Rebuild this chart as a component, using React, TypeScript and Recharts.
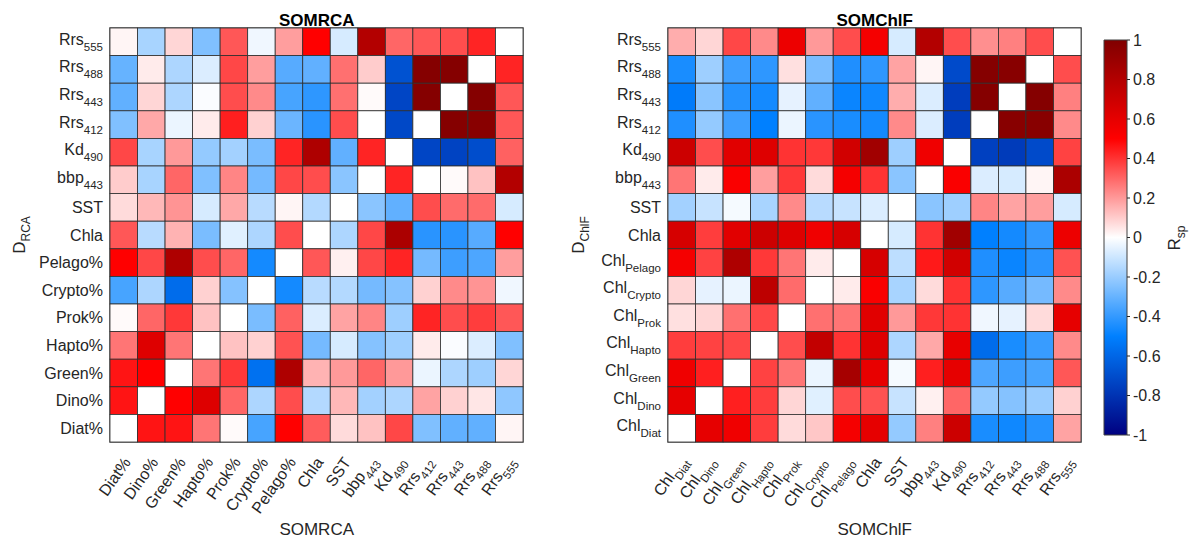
import React from 'react';
import { ScatterChart, Scatter, XAxis, YAxis, ReferenceArea, BarChart, Bar } from 'recharts';

type Label = [string, string];

// axis labels, index 0 = left column / bottom row
const rcaLabels: Label[] = [
  ['Diat%', ''], ['Dino%', ''], ['Green%', ''], ['Hapto%', ''], ['Prok%', ''],
  ['Crypto%', ''], ['Pelago%', ''], ['Chla', ''], ['SST', ''], ['bbp', '443'],
  ['Kd', '490'], ['Rrs', '412'], ['Rrs', '443'], ['Rrs', '488'], ['Rrs', '555'],
];

const chlLabels: Label[] = [
  ['Chl', 'Diat'], ['Chl', 'Dino'], ['Chl', 'Green'], ['Chl', 'Hapto'], ['Chl', 'Prok'],
  ['Chl', 'Crypto'], ['Chl', 'Pelago'], ['Chla', ''], ['SST', ''], ['bbp', '443'],
  ['Kd', '490'], ['Rrs', '412'], ['Rrs', '443'], ['Rrs', '488'], ['Rrs', '555'],
];

// rows listed top to bottom (Rrs555 first), null = diagonal
const rcaMatrix: (number | null)[][] = [
  [0.02, -0.17, 0.08, -0.25, 0.33, -0.03, 0.19, 0.5, -0.08, 0.8, 0.3, 0.33, 0.35, 0.43, null],
  [-0.3, 0.04, -0.16, -0.07, 0.36, 0.19, -0.33, -0.31, 0.28, 0.1, -0.68, 0.98, 0.98, null, 0.43],
  [-0.31, 0.08, -0.16, -0.01, 0.35, 0.23, -0.36, -0.41, 0.28, 0.01, -0.73, 0.98, null, 0.98, 0.33],
  [-0.25, 0.17, -0.04, 0.04, 0.44, 0.09, -0.29, -0.42, 0.35, 0, -0.72, null, 0.98, 0.97, 0.33],
  [0.36, -0.17, 0.2, -0.21, -0.18, -0.26, 0.43, 0.82, -0.31, 0.43, null, -0.73, -0.74, -0.7, 0.31],
  [0.1, -0.17, 0.3, -0.25, 0.24, -0.27, 0.36, 0.35, -0.23, null, 0.43, 0, 0.01, 0.12, 0.8],
  [0.07, 0.14, 0.21, -0.08, 0.17, -0.14, 0.02, -0.15, null, -0.23, -0.31, 0.35, 0.29, 0.29, -0.08],
  [0.33, -0.14, 0.15, -0.26, -0.06, -0.16, 0.35, null, -0.16, 0.36, 0.83, -0.42, -0.42, -0.33, 0.5],
  [0.5, 0.36, 0.82, 0.35, 0.3, -0.46, null, 0.33, 0.03, 0.36, 0.43, -0.27, -0.38, -0.35, 0.19],
  [-0.36, -0.16, -0.58, 0.09, -0.24, null, -0.46, -0.14, -0.15, -0.27, -0.24, 0.09, 0.23, 0.21, -0.03],
  [0.01, 0.3, 0.39, 0.12, null, -0.26, 0.31, -0.07, 0.18, 0.24, -0.19, 0.43, 0.35, 0.38, 0.33],
  [0.27, 0.63, 0.27, null, 0.12, 0.09, 0.34, -0.27, -0.08, -0.24, -0.19, 0.04, -0.01, -0.07, -0.25],
  [0.46, 0.5, null, 0.27, 0.39, -0.56, 0.82, 0.15, 0.2, 0.3, 0.2, -0.04, -0.16, -0.19, 0.08],
  [0.46, null, 0.5, 0.63, 0.3, -0.16, 0.35, -0.15, 0.14, -0.18, -0.16, 0.18, 0.09, 0.05, -0.22],
  [null, 0.46, 0.46, 0.27, 0.01, -0.36, 0.5, 0.32, 0.07, 0.12, 0.36, -0.25, -0.31, -0.31, 0.02],
];

const chlMatrix: (number | null)[][] = [
  [0.16, 0.08, 0.36, 0.23, 0.57, 0.2, 0.35, 0.54, -0.08, 0.8, 0.35, 0.22, 0.25, 0.35, null],
  [-0.45, -0.19, -0.38, -0.41, 0.06, -0.26, -0.44, -0.41, 0.18, 0.02, -0.71, 0.98, 0.97, null, 0.35],
  [-0.52, -0.23, -0.43, -0.46, -0.05, -0.31, -0.48, -0.47, 0.16, -0.07, -0.76, 0.98, null, 0.98, 0.25],
  [-0.44, -0.21, -0.38, -0.5, -0.04, -0.42, -0.45, -0.46, 0.23, -0.07, -0.76, null, 0.97, 0.97, 0.23],
  [0.7, 0.35, 0.62, 0.63, 0.4, 0.39, 0.68, 0.87, -0.19, 0.56, null, -0.75, -0.77, -0.71, 0.37],
  [0.27, 0.04, 0.52, 0.19, 0.39, 0.07, 0.54, 0.4, -0.23, null, 0.52, -0.07, -0.08, 0.02, 0.83],
  [-0.18, -0.11, -0.02, -0.17, 0.23, -0.14, -0.11, -0.07, null, -0.23, -0.19, 0.24, 0.18, 0.19, -0.08],
  [0.66, 0.38, 0.62, 0.7, 0.63, 0.56, 0.66, null, -0.08, 0.4, 0.87, -0.5, -0.46, -0.4, 0.57],
  [0.54, 0.37, 0.82, 0.39, 0.27, 0.04, null, 0.66, -0.13, 0.45, 0.68, -0.44, -0.48, -0.42, 0.34],
  [0.08, -0.05, -0.04, 0.76, 0.29, null, 0.04, 0.52, -0.17, 0.07, 0.4, -0.41, -0.33, -0.27, 0.23],
  [0.06, 0.08, 0.28, 0.36, null, 0.28, 0.27, 0.62, 0.2, 0.39, 0.4, -0.03, -0.05, 0.07, 0.6],
  [0.38, 0.37, 0.36, null, 0.35, 0.74, 0.4, 0.63, -0.16, 0.17, 0.59, -0.58, -0.45, -0.39, 0.23],
  [0.56, 0.44, null, 0.37, 0.27, -0.04, 0.85, 0.59, -0.02, 0.44, 0.6, -0.35, -0.38, -0.36, 0.33],
  [0.6, null, 0.44, 0.38, 0.08, -0.06, 0.35, 0.34, -0.11, 0.03, 0.3, -0.21, -0.24, -0.2, 0.09],
  [null, 0.6, 0.56, 0.38, 0.07, 0.11, 0.54, 0.6, -0.21, 0.25, 0.7, -0.45, -0.47, -0.43, 0.18],
];

const colorbarTicks = [-1, -0.8, -0.6, -0.4, -0.2, 0, 0.2, 0.4, 0.6, 0.8, 1];

const FONT = '"Liberation Sans", Arial, Helvetica, sans-serif';
const TXT = '#262626';
const CHART_W = 560;
const CHART_H = 540;
const PLOT_W = 413;
const PLOT_H = 414;

// blue - white - red map, -1 navy ... 1 dark red
function rsColor(v: number | null) {
  if (v === null) return '#ffffff';
  const t = Math.max(-1, Math.min(1, v));
  let r = 0, g = 0, b = 0;
  if (t >= 0.5) { const k = 2 * t - 1; r = 255 - 127 * k; }
  else if (t >= 0) { const k = 2 * t; r = 255; g = 255 * (1 - k); b = g; }
  else if (t >= -0.5) { const k = -2 * t; r = 255 * (1 - k); g = 255 - 127 * k; b = 255; }
  else { const k = -2 * t - 1; g = 128 * (1 - k); b = 255 - 127 * k; }
  return `rgb(${Math.round(r)},${Math.round(g)},${Math.round(b)})`;
}

function toCells(matrix: (number | null)[][]) {
  const n = matrix.length;
  const out: { x: number; y: number; v: number | null }[] = [];
  matrix.forEach((row, r) => row.forEach((v, c) => out.push({ x: c + 0.5, y: n - 1 - r + 0.5, v })));
  return out;
}

function YTick({ x, y, payload, labels }: any) {
  const [main, sub] = labels[Math.floor(payload.value)];
  return (
    <text x={x} y={y} textAnchor="end" fontSize={16} fontFamily={FONT} fill={TXT}>
      <tspan dy={sub ? 3 : 5.6}>{main}</tspan>
      {sub && <tspan dy={6} fontSize={11.5}>{sub}</tspan>}
    </text>
  );
}

function XTick({ x, y, payload, labels }: any) {
  const [main, sub] = labels[Math.floor(payload.value)];
  return (
    <g transform={`translate(${x + 3},${y + 17})`}>
      <text transform="rotate(-55)" textAnchor="end" fontSize={16} fontFamily={FONT} fill={TXT}>
        <tspan dy={sub ? 3 : 5.6}>{main}</tspan>
        {sub && <tspan dy={6} fontSize={11.5}>{sub}</tspan>}
      </text>
    </g>
  );
}

function Heatmap({ matrix, labels, left, marginLeft }: any) {
  const cells = toCells(matrix);
  const ticks = labels.map((_: Label, i: number) => i + 0.5);
  const cw = PLOT_W / labels.length;
  const ch = PLOT_H / labels.length;
  return (
    <div style={{ position: 'absolute', left, top: 0 }}>
      <ScatterChart
        width={CHART_W}
        height={CHART_H}
        margin={{ top: 28, right: CHART_W - marginLeft - 100 - PLOT_W, bottom: 8, left: marginLeft }}
      >
        <XAxis
          type="number"
          dataKey="x"
          domain={[0, labels.length]}
          ticks={ticks}
          height={90}
          axisLine={false}
          tickLine={false}
          tickSize={0}
          tickMargin={0}
          interval={0}
          tick={(p: any) => <XTick {...p} labels={labels} />}
        />
        <YAxis
          type="number"
          dataKey="y"
          domain={[0, labels.length]}
          ticks={ticks}
          width={100}
          axisLine={false}
          tickLine={false}
          tickSize={0}
          tickMargin={7}
          interval={0}
          tick={(p: any) => <YTick {...p} labels={labels} />}
        />
        <Scatter
          data={cells}
          isAnimationActive={false}
          shape={(p: any) => (
            <rect
              x={p.cx - cw / 2}
              y={p.cy - ch / 2}
              width={cw}
              height={ch}
              fill={rsColor(p.payload.v)}
              stroke="#2e2e2e"
              strokeWidth={0.8}
            />
          )}
        />
        <ReferenceArea x1={0} x2={labels.length} y1={0} y2={labels.length} fill="none" stroke="#5a5a5a" strokeWidth={1.5} />
      </ScatterChart>
    </div>
  );
}

function Colorbar() {
  const stops = [];
  for (let i = 0; i <= 40; i++) {
    const v = 1 - i / 20;
    stops.push(<stop key={i} offset={`${(i / 40) * 100}%`} stopColor={rsColor(v)} />);
  }
  return (
    <div style={{ position: 'absolute', left: 1090, top: 0 }}>
      <BarChart
        width={100}
        height={CHART_H}
        data={[{ k: 'Rsp', range: [-1, 1] }]}
        margin={{ top: 40, right: 13, bottom: 105, left: 14 }}
        barCategoryGap={0}
      >
        <defs>
          <linearGradient id="rspGrad" x1="0" y1="0" x2="0" y2="1">
            {stops}
          </linearGradient>
        </defs>
        <XAxis dataKey="k" type="category" hide />
        <YAxis
          orientation="right"
          type="number"
          domain={[-1, 1]}
          ticks={colorbarTicks}
          width={50}
          axisLine={false}
          tickSize={3}
          tickMargin={3}
          tickLine={{ stroke: TXT }}
          interval={0}
          tick={{ fontSize: 16, fill: TXT, fontFamily: FONT }}
          tickFormatter={(v: number) => String(v)}
        />
        <Bar dataKey="range" fill="url(#rspGrad)" stroke="#404040" strokeWidth={1} isAnimationActive={false} />
      </BarChart>
    </div>
  );
}

export default function App() {
  return (
    <div style={{ position: 'absolute', left: 0, top: 0, width: 1190, height: 540, background: '#fff', fontFamily: FONT }}>
      <Heatmap matrix={rcaMatrix} labels={rcaLabels} left={0} marginLeft={10} />
      <Heatmap matrix={chlMatrix} labels={chlLabels} left={560} marginLeft={8} />
      <Colorbar />
      <svg width={1190} height={540} style={{ position: 'absolute', left: 0, top: 0, pointerEvents: 'none' }}>
        <g fontFamily={FONT}>
          <text x={316.7} y={26} textAnchor="middle" fontSize={17} fontWeight="bold" fill="#000">SOMRCA</text>
          <text x={874.7} y={26} textAnchor="middle" fontSize={17} fontWeight="bold" fill="#000">SOMChlF</text>
          <text x={316.7} y={535} textAnchor="middle" fontSize={17} fill={TXT}>SOMRCA</text>
          <text x={874.7} y={535} textAnchor="middle" fontSize={17} fill={TXT}>SOMChlF</text>
          <text transform="translate(25,235) rotate(-90)" textAnchor="middle" fontSize={17} fill={TXT}>
            D<tspan dy={5} fontSize={12}>RCA</tspan>
          </text>
          <text transform="translate(584,235) rotate(-90)" textAnchor="middle" fontSize={17} fill={TXT}>
            D<tspan dy={5} fontSize={12}>ChlF</tspan>
          </text>
          <text transform="translate(1180,238) rotate(-90)" textAnchor="middle" fontSize={17} fill={TXT}>
            R<tspan dy={5} fontSize={12}>sp</tspan>
          </text>
        </g>
      </svg>
    </div>
  );
}
